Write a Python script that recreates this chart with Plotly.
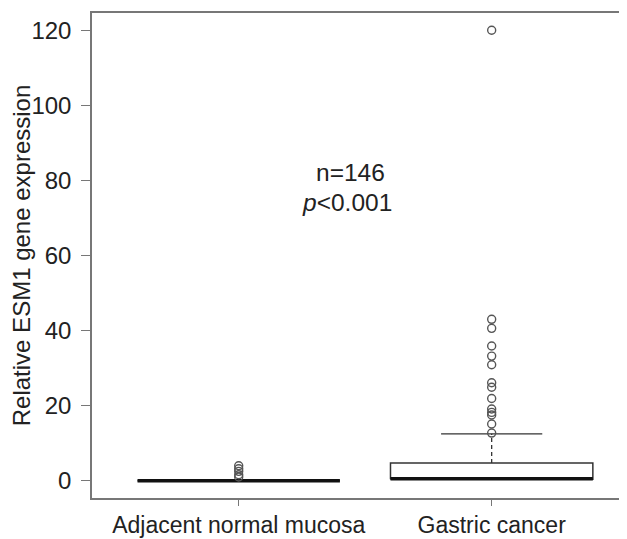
import plotly.graph_objects as go

categories = ["Adjacent normal mucosa", "Gastric cancer"]
positions = [1, 2]
q1 = [0.0, 0.4]
median = [0.0, 0.5]
q3 = [0.2, 4.7]
lower_whisker = [0.0, 0.0]
upper_whisker = [0.3, 12.5]
outliers = [
    [1.0, 1.6, 2.5, 3.2, 4.0],
    [12.7, 15.1, 17.5, 18.2, 19.1, 21.9, 24.9, 26.1, 30.9, 33.2, 35.9, 40.6, 43.0, 120.0],
]
y_ticks = [0, 20, 40, 60, 80, 100, 120]
box_half = 0.4
cap_half = 0.2

FONT = "Liberation Sans, Arial, sans-serif"
fig = go.Figure()

for i, p in enumerate(positions):
    fig.add_trace(go.Scatter(
        x=[p - box_half, p + box_half, p + box_half, p - box_half, p - box_half],
        y=[q1[i], q1[i], q3[i], q3[i], q1[i]],
        mode="lines", line=dict(color="#333333", width=1.5),
        fill="toself", fillcolor="white", hoverinfo="skip", showlegend=False))
    fig.add_trace(go.Scatter(
        x=[p, p], y=[q3[i], upper_whisker[i]], mode="lines",
        line=dict(color="#333333", width=1.3, dash="4px,3px"),
        hoverinfo="skip", showlegend=False))
    fig.add_trace(go.Scatter(
        x=[p - cap_half, p + cap_half], y=[upper_whisker[i], upper_whisker[i]],
        mode="lines", line=dict(color="#333333", width=1.3),
        hoverinfo="skip", showlegend=False))
    fig.add_trace(go.Scatter(
        x=[p - box_half, p + box_half], y=[median[i], median[i]],
        mode="lines", line=dict(color="#111111", width=3.5),
        hoverinfo="skip", showlegend=False))
    fig.add_trace(go.Scatter(
        x=[p] * len(outliers[i]), y=outliers[i], mode="markers",
        marker=dict(symbol="circle-open", size=8, color="#555555", line=dict(width=1.4)),
        showlegend=False))

fig.add_annotation(x=1.44, y=82, text="n=146", showarrow=False,
                   font=dict(family=FONT, size=24.5, color="#222222"))
fig.add_annotation(x=1.43, y=74, text="<i>p</i>&lt;0.001", showarrow=False,
                   font=dict(family=FONT, size=24.5, color="#222222"))

# page body has an 8px margin; figure is sized/margined to compensate
fig.update_layout(
    width=619, height=531,
    margin=dict(l=84, r=0, t=5, b=41, autoexpand=False),
    paper_bgcolor="white", plot_bgcolor="white",
    font=dict(family=FONT, size=24, color="#222222"),
    xaxis=dict(range=[0.42, 2.535], tickvals=positions, ticktext=categories,
               showgrid=False, zeroline=False, showline=True, linecolor="#777777",
               linewidth=1.5, mirror=True, ticks="outside", ticklen=6, tickcolor="#777777",
               tickfont=dict(size=23), ticklabelstandoff=0),
    yaxis=dict(range=[-4.6, 124.6], tickvals=y_ticks, showgrid=False, zeroline=False,
               showline=True, linecolor="#777777", linewidth=1.5, ticks="outside",
               ticklen=9, tickcolor="#777777", tickfont=dict(size=24),
               ticklabelstandoff=5,
               title=dict(text="Relative ESM1 gene expression", font=dict(size=24), standoff=3)),
)

fig.write_html("out.html")
